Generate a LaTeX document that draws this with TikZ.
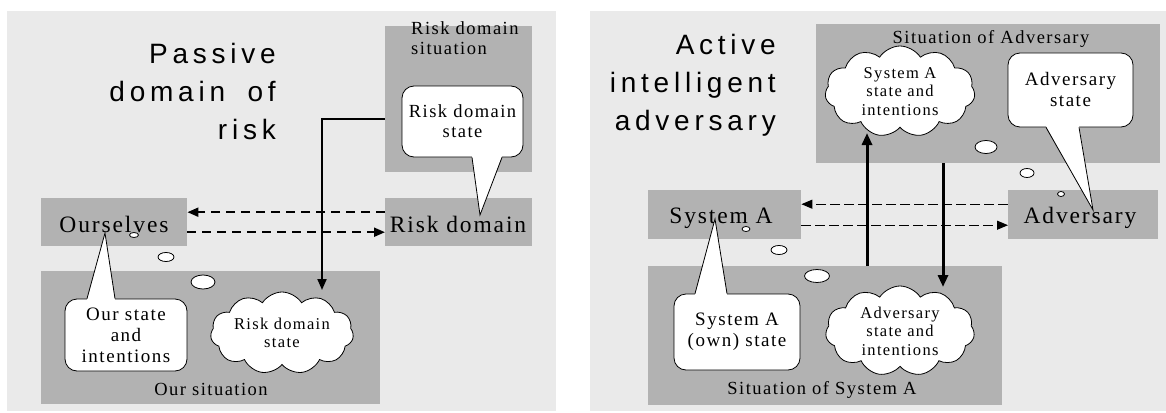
\documentclass[tikz,border=0pt]{standalone}
\usepackage{fontspec}
\setmainfont{Liberation Serif}[LetterSpace=8]
\newfontfamily\titlefont{Liberation Sans}[LetterSpace=17,WordSpace=1.8]
\usetikzlibrary{shapes.geometric,shapes.symbols,arrows.meta}
\definecolor{panelbg}{HTML}{EAEAEA}
\definecolor{boxgray}{HTML}{B2B2B2}
\begin{document}
\begin{tikzpicture}[x=1pt,y=-1pt,
  panel/.style={fill=panelbg},
  graybox/.style={fill=boxgray, inner sep=0pt, anchor=north west},
  title/.style={font=\titlefont\fontsize{28}{38}\selectfont, align=right, inner sep=0pt, anchor=base east},
  boxlabel/.style={font=\fontsize{23.5}{26}\selectfont, inner sep=0pt, anchor=base},
  sitlabel/.style={font=\fontsize{18.5}{20}\selectfont, inner sep=0pt, anchor=base, align=left},
  callout/.style={rectangle, rounded corners=12pt, draw=black, line width=0.8pt, fill=white, inner sep=0pt, align=center, font=\fontsize{19}{21}\selectfont},
  tail/.style={draw=black, line width=0.8pt},
  thought/.style={cloud, cloud puffs=11, cloud puff arc=115, cloud ignores aspect, draw=black, line width=0.8pt, fill=white, inner sep=0pt, align=center, font=\fontsize{16.5}{18.5}\selectfont},
  bubble/.style={ellipse, draw=black, line width=0.8pt, fill=white, inner sep=0pt},
  solidarrow/.style={line width=2pt, -{Triangle[length=11pt,width=9pt]}},
  dasharrow/.style={line width=2pt, dash pattern=on 9pt off 6pt, -{Triangle[length=11pt,width=9pt]}},
  thinarrow/.style={line width=1.1pt, dash pattern=on 10pt off 4pt, -{Triangle[length=11pt,width=9pt]}},
  thickarrow/.style={line width=3pt, -{Triangle[length=12pt,width=10pt]}}
]
\useasboundingbox (0,0) rectangle (1166,412);
% panels
\fill[panel] (7,11) rectangle (556,411);
\fill[panel] (590,11) rectangle (1166,411);

% ===== left panel =====
\node[title] (t1) at (276,139) {Passive\\domain of\\risk};
\node[graybox, minimum width=147pt, minimum height=146pt] (rds) at (385,26) {};
\node[graybox, minimum width=147pt, minimum height=48pt] (rd) at (385,198) {};
\node[graybox, minimum width=146pt, minimum height=48pt] (our) at (41,198) {};
\node[graybox, minimum width=339pt, minimum height=133pt] (os) at (41,271) {};

\node[sitlabel, anchor=base west] (rdsl) at (411,55) {Risk domain\\situation};
\node[boxlabel] (rdl) at (458,232) {Risk domain};
\node[boxlabel] (ourl) at (114,232) {Ourselves};
\node[sitlabel] (osl) at (211,395) {Our situation};

% connectors
\coordinate (bend) at (322,119);
\draw[solidarrow] (bend -| rds.west) -- (bend) -- (322,290);
\draw[dasharrow] ([yshift=10pt]rd.west) -- ([yshift=10pt]our.east);
\draw[dasharrow] ([yshift=-10pt]our.east) -- ([yshift=-10pt]rd.west);

% callout risk domain state
\node[callout, minimum width=121pt, minimum height=71pt, font=\fontsize{18.5}{20}\selectfont] (c1) at (462.5,121.5) {Risk domain\\state};
\coordinate (c1tip) at (480,215);
\fill[white] ([xshift=9.5pt,yshift=1.5pt]c1.south) -- (c1tip) -- ([xshift=39.5pt,yshift=1.5pt]c1.south) -- cycle;
\draw[tail] ([xshift=9.5pt]c1.south) -- (c1tip) -- ([xshift=39.5pt]c1.south);

% callout our state
\node[callout, minimum width=122pt, minimum height=72pt] (c2) at (126,335) {Our state\\and\\intentions};
\coordinate (c2tip) at (105,233);
\fill[white] ([xshift=-39pt,yshift=-1.5pt]c2.north) -- (c2tip) -- ([xshift=-11pt,yshift=-1.5pt]c2.north) -- cycle;
\draw[tail] ([xshift=-39pt]c2.north) -- (c2tip) -- ([xshift=-11pt]c2.north);

% cloud
\node[thought, minimum width=143pt, minimum height=82pt] (lc) at (282,333) {Risk domain\\state};

% bubbles
\node[bubble, minimum width=9pt, minimum height=5pt] (lb1) at (134,235) {};
\node[bubble, minimum width=16pt, minimum height=9pt] (lb2) at (166,257) {};
\node[bubble, minimum width=24pt, minimum height=14pt] (lb3) at (203,282) {};

% ===== right panel =====
\node[title] (t2) at (776,130) {Active\\intelligent\\adversary};
\node[graybox, minimum width=344pt, minimum height=139pt] (soa) at (816,24) {};
\node[graybox, minimum width=153pt, minimum height=49pt] (sa) at (648,190) {};
\node[graybox, minimum width=150pt, minimum height=49pt] (adv) at (1008,190) {};
\node[graybox, minimum width=354pt, minimum height=139pt] (ssa) at (648,266) {};

\node[sitlabel] (soal) at (991,44) {Situation of Adversary};
\node[boxlabel] (sal) at (721,223) {System A};
\node[boxlabel] (advl) at (1080,223) {Adversary};
\node[sitlabel] (ssal) at (822,394) {Situation of System A};

\draw[thinarrow] ([yshift=10.5pt]adv.west) -- ([yshift=10.5pt]sa.east);
\draw[thinarrow] ([yshift=-10.5pt]sa.east) -- ([yshift=-10.5pt]adv.west);

% clouds
\node[thought, minimum width=150pt, minimum height=91pt] (rc1) at (900,91.5) {System A\\state and\\intentions};
\node[thought, minimum width=149pt, minimum height=90pt] (rc2) at (900,331) {Adversary\\state and\\intentions};

\coordinate (up) at (867,0);
\coordinate (dn) at (943,0);
\draw[thickarrow] (up |- ssa.north) -- (867,133);
\draw[thickarrow] (dn |- soa.south) -- (943,287);

% callout adversary state
\node[callout, minimum width=125pt, minimum height=74pt] (c3) at (1070.5,90) {Adversary\\state};
\coordinate (c3tip) at (1093,210);
\fill[white] ([xshift=-24.5pt,yshift=1.5pt]c3.south) -- (c3tip) -- ([xshift=8.5pt,yshift=1.5pt]c3.south) -- cycle;
\draw[tail] ([xshift=-24.5pt]c3.south) -- (c3tip) -- ([xshift=8.5pt]c3.south);

% callout system A own state
\node[callout, minimum width=126pt, minimum height=76pt] (c4) at (737,332) {System A\\(own) state};
\coordinate (c4tip) at (715,219);
\fill[white] ([xshift=-42pt,yshift=-1.5pt]c4.north) -- (c4tip) -- ([xshift=-10pt,yshift=-1.5pt]c4.north) -- cycle;
\draw[tail] ([xshift=-42pt]c4.north) -- (c4tip) -- ([xshift=-10pt]c4.north);

% bubbles
\node[bubble, minimum width=22pt, minimum height=13pt] (rb1) at (986,147) {};
\node[bubble, minimum width=14pt, minimum height=9pt] (rb2) at (1027,173) {};
\node[bubble, minimum width=7pt, minimum height=5pt] (rb3) at (1061,194) {};
\node[bubble, minimum width=8pt, minimum height=5pt] (rb4) at (746,229) {};
\node[bubble, minimum width=16pt, minimum height=9pt] (rb5) at (779,250) {};
\node[bubble, minimum width=25pt, minimum height=13pt] (rb6) at (817,276) {};
\end{tikzpicture}
\end{document}
